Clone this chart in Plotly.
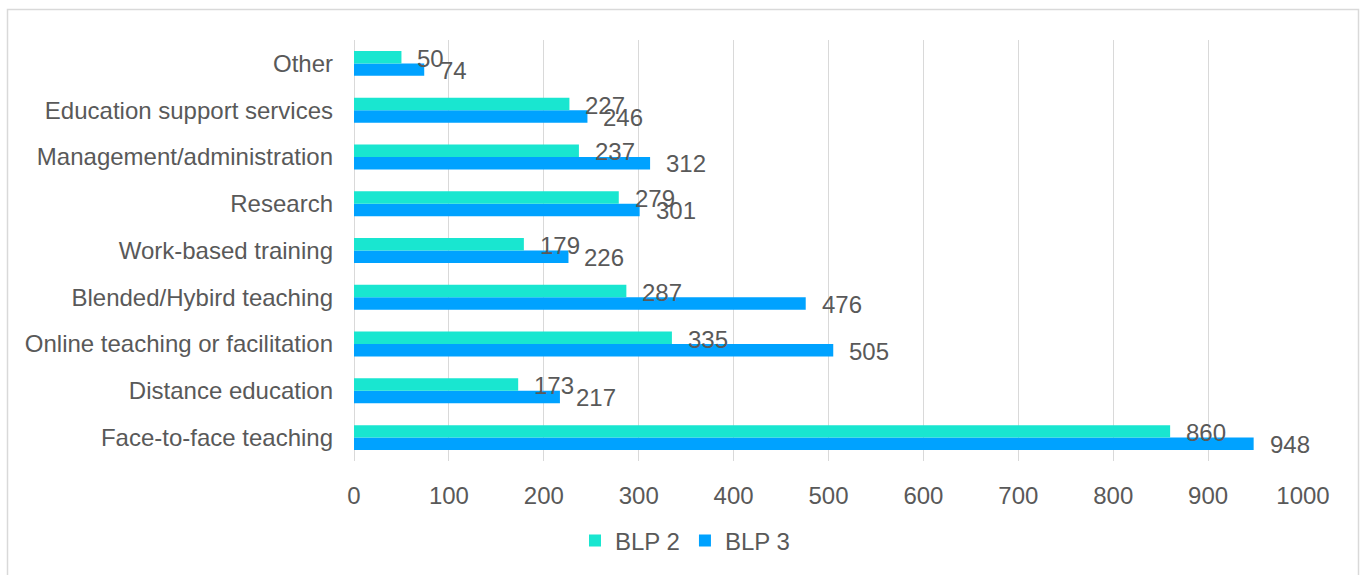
import plotly.graph_objects as go

categories = ["Face-to-face teaching", "Distance education", "Online teaching or facilitation",
              "Blended/Hybird teaching", "Work-based training", "Research",
              "Management/administration", "Education support services", "Other"]
blp2 = [860, 173, 335, 287, 179, 279, 237, 227, 50]
blp3 = [948, 217, 505, 476, 226, 301, 312, 246, 74]
x_ticks = list(range(0, 1001, 100))

TEXT = "#595959"
FONT = "Liberation Sans, Arial, sans-serif"
FS = 24
C2 = "#19E6D0"
C3 = "#00A2FF"

fig = go.Figure()
fig.add_trace(go.Bar(y=categories, x=blp3, orientation="h", name="BLP 3",
                     marker=dict(color=C3, line_width=0), legendrank=2))
fig.add_trace(go.Bar(y=categories, x=blp2, orientation="h", name="BLP 2",
                     marker=dict(color=C2, line_width=0), legendrank=1))

annotations = []
for cat, v in zip(categories, blp2):
    annotations.append(dict(x=v, y=cat, xref="x", yref="y", text=str(v), showarrow=False,
                            xanchor="left", yanchor="middle", xshift=14, yshift=5,
                            font=dict(family=FONT, size=FS, color=TEXT)))
for cat, v in zip(categories, blp3):
    annotations.append(dict(x=v, y=cat, xref="x", yref="y", text=str(v), showarrow=False,
                            xanchor="left", yanchor="middle", xshift=14, yshift=-7,
                            font=dict(family=FONT, size=FS, color=TEXT)))

W, H = 1361, 575
L, R, T, B = 354, 58, 40, 114
pw, ph = W - L - R, H - T - B

def px_x(p):
    return (p - L) / pw

def px_y(p):
    return (H - B - p) / ph

fig.add_shape(type="rect", xref="paper", yref="paper",
              x0=px_x(7.5), x1=px_x(1358.5), y0=px_y(585), y1=px_y(9.5),
              line=dict(color="#D9D9D9", width=1.5), fillcolor="rgba(0,0,0,0)", layer="below")

fig.update_layout(
    width=W, height=H,
    margin=dict(l=L, r=R, t=T, b=B, autoexpand=False),
    paper_bgcolor="white", plot_bgcolor="white",
    barmode="group", bargap=0.467, bargroupgap=0,
    font=dict(family=FONT, size=FS, color=TEXT),
    annotations=annotations,
    showlegend=True,
    legend=dict(orientation="h", x=px_x(685), xanchor="center", y=px_y(541), yanchor="middle",
                font=dict(family=FONT, size=FS, color=TEXT), itemwidth=30,
                bgcolor="rgba(0,0,0,0)"),
    xaxis=dict(range=[0, 1000], tickvals=x_ticks, ticktext=[str(t) for t in x_ticks],
               showgrid=True, gridcolor="#D9D9D9", gridwidth=1.3,
               zeroline=True, zerolinecolor="#D9D9D9", zerolinewidth=1.3,
               showline=False, ticks="", ticklabelstandoff=18,
               tickfont=dict(family=FONT, size=FS, color=TEXT), fixedrange=True),
    yaxis=dict(categoryorder="array", categoryarray=categories,
               showgrid=False, showline=False, ticks="", ticklabelstandoff=20,
               tickfont=dict(family=FONT, size=FS, color=TEXT), fixedrange=True),
)

fig.write_html("out.html", config={"displayModeBar": False},
               post_script="document.body.style.margin='0';document.body.style.overflow='hidden';")
